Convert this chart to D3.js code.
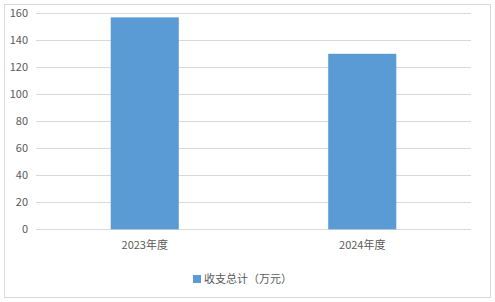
<!DOCTYPE html>
<html>
<head>
<meta charset="utf-8">
<script src="https://cdn.jsdelivr.net/npm/d3@7"></script>
<style>
  body { margin: 0; background: #fff; }
  svg { display: block; font-family: "Noto Sans CJK SC", "Liberation Sans", sans-serif; }
</style>
</head>
<body>
<svg id="chart" width="495" height="302"></svg>
<script>
// chart data
const categories = ['2023年度', '2024年度'];
const values = [157, 130];
const seriesName = '收支总计（万元）';
const yTicks = [0, 20, 40, 60, 80, 100, 120, 140, 160];

const svg = d3.select('#chart');
const margin = { left: 36, right: 24, top: 13.3, bottom: 72.7 };
const width = 495, height = 302;

// outer frame
svg.append('rect')
    .attr('x', 4.5).attr('y', 4.5)
    .attr('width', 486).attr('height', 293)
    .attr('fill', '#fff')
    .attr('stroke', '#d9d9d9');

const x = d3.scaleBand()
    .domain(categories)
    .range([margin.left, width - margin.right])
    .paddingInner(0.687)
    .paddingOuter(0.3435);

const y = d3.scaleLinear()
    .domain([0, 160])
    .range([height - margin.bottom, margin.top]);

// gridlines
svg.append('g')
    .selectAll('line')
    .data(yTicks)
    .enter().append('line')
    .attr('x1', margin.left).attr('x2', width - margin.right)
    .attr('y1', d => Math.round(y(d)) + 0.5)
    .attr('y2', d => Math.round(y(d)) + 0.5)
    .attr('stroke', '#d9d9d9')
    .attr('stroke-width', 1);

// y tick labels
svg.append('g')
    .selectAll('text')
    .data(yTicks)
    .enter().append('text')
    .attr('x', 28)
    .attr('y', d => y(d))
    .attr('dy', '0.35em')
    .attr('text-anchor', 'end')
    .attr('font-size', 11)
    .attr('fill', '#595959')
    .text(d => d);

// bars
svg.append('g')
    .selectAll('rect')
    .data(values)
    .enter().append('rect')
    .attr('x', (d, i) => x(categories[i]))
    .attr('y', d => y(d))
    .attr('width', x.bandwidth())
    .attr('height', d => y(0) - y(d))
    .attr('fill', '#5b9bd5');

// x labels
svg.append('g')
    .selectAll('text')
    .data(categories)
    .enter().append('text')
    .attr('x', d => x(d) + x.bandwidth() / 2)
    .attr('y', 245)
    .attr('dy', '0.35em')
    .attr('text-anchor', 'middle')
    .attr('font-size', 11)
    .attr('fill', '#595959')
    .text(d => d);

// legend
const legend = svg.append('g');
legend.append('rect')
    .attr('x', 193).attr('y', 275)
    .attr('width', 8).attr('height', 8)
    .attr('fill', '#5b9bd5');
legend.append('text')
    .attr('x', 204).attr('y', 279)
    .attr('dy', '0.35em')
    .attr('font-size', 11)
    .attr('fill', '#595959')
    .text(seriesName);
</script>
</body>
</html>
